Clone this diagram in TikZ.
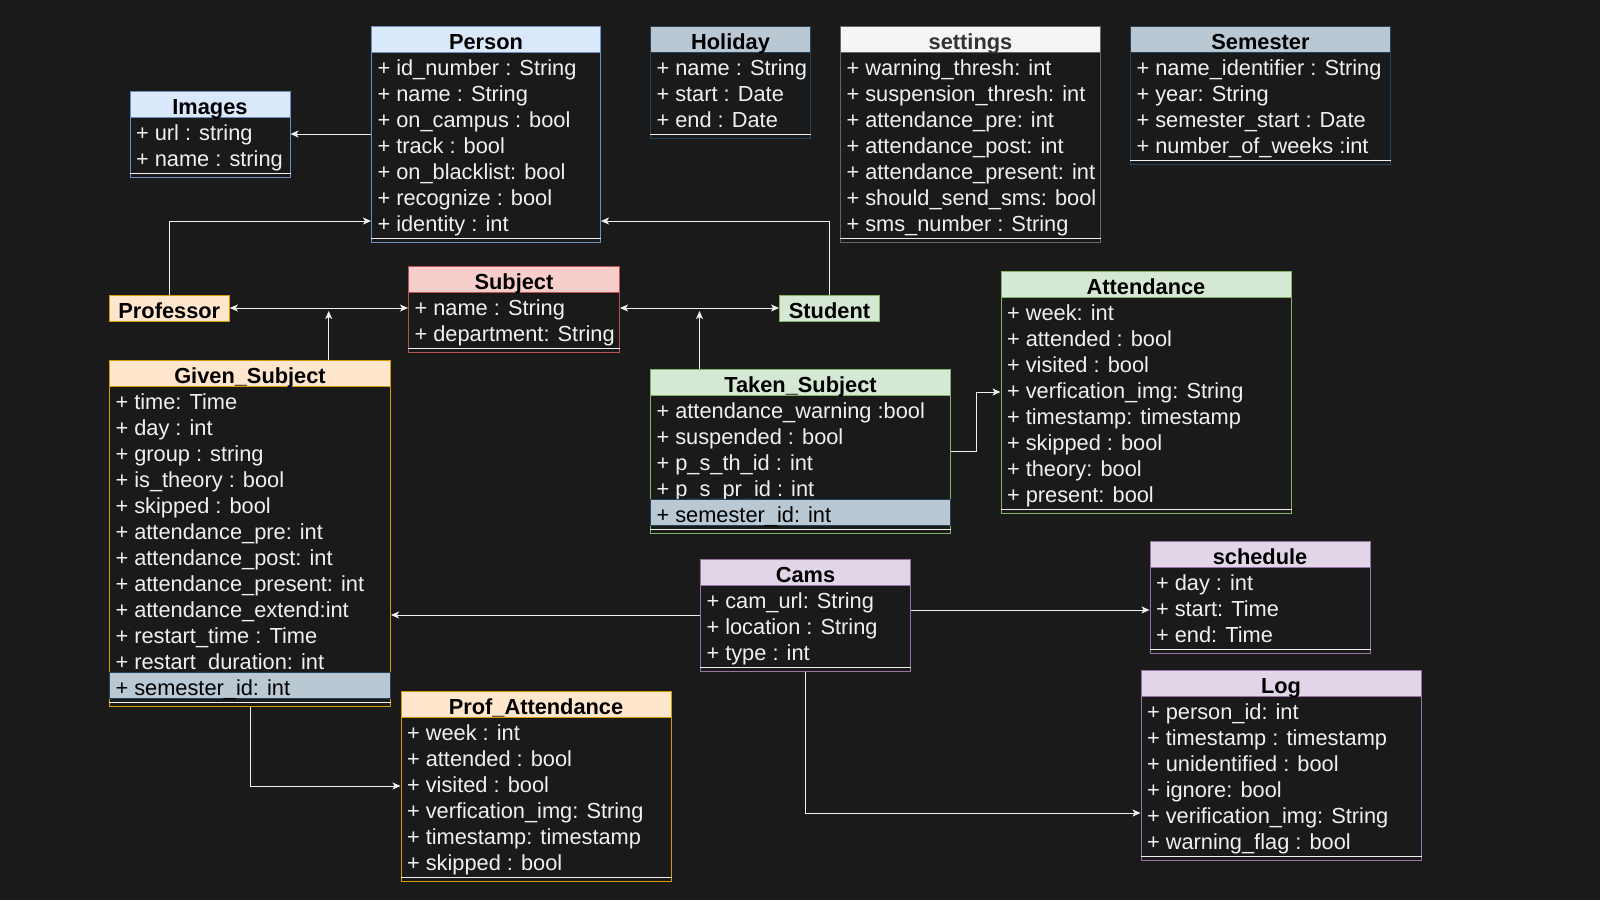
\documentclass[tikz,border=0pt]{standalone}
\usepackage{fontspec}
\setmainfont{Liberation Sans}
\usetikzlibrary{arrows.meta,calc}
\definecolor{bg}{HTML}{1A1A1A}
\definecolor{fg}{HTML}{F0F0F0}
\definecolor{bluefill}{HTML}{DAE8FC}\definecolor{bluestroke}{HTML}{6C8EBF}
\definecolor{grayfill}{HTML}{BAC8D3}\definecolor{graystroke}{HTML}{23445D}
\definecolor{setfill}{HTML}{F5F5F5}\definecolor{setstroke}{HTML}{666666}\definecolor{settext}{HTML}{333333}
\definecolor{redfill}{HTML}{F8CECC}\definecolor{redstroke}{HTML}{B85450}
\definecolor{orfill}{HTML}{FFE6CC}\definecolor{orstroke}{HTML}{D79B00}
\definecolor{grfill}{HTML}{D5E8D4}\definecolor{grstroke}{HTML}{82B366}
\definecolor{pufill}{HTML}{E1D5E7}\definecolor{pustroke}{HTML}{9673A6}
\newcommand\fs{\fontsize{21.8}{26}\selectfont}
% #1 name, #2 left, #3 top, #4 width, #5 rows, #6 fill, #7 stroke, #8 title
\newcommand\umlclass[8]{%
  \pgfmathsetmacro\boxh{34+26*#5}%
  \node[classframe, draw=#7, minimum width=#4pt, minimum height=\boxh pt] (#1) at ({#2+#4/2},{#3+\boxh/2}) {};
  \node[hdr, draw=#7, fill=#6, minimum width=#4pt] (#1-h) at ({#2+#4/2},{#3+13}) {#8};
  \draw[sepline] ([yshift=4pt]#1.south west) -- ([yshift=4pt]#1.south east);
}
% #1 name, #2 left, #3 top, #4 width, #5 list
\newcommand\umlrows[5]{%
  \foreach \t [count=\i] in {#5} {
    \node[rowtext] (#1-\i) at ({#2+#4/2},{#3+26*\i+13}) {\makebox[\dimexpr#4pt-12pt\relax][l]{\t}};
  }
}
% #1 name, #2 left, #3 top, #4 width, #5 index
\newcommand\semrow[5]{%
  \node[rowtext, fill=grayfill, draw=graystroke, text=black] (#1-#5) at ({#2+#4/2},{#3+26*#5+13}) {\makebox[\dimexpr#4pt-12pt\relax][l]{+ semester\_id: int}};
}
\begin{document}
\begin{tikzpicture}[x=1pt,y=-1pt,
  font=\fs,
  classframe/.style={fill=bg, line width=1pt, inner sep=0pt},
  hdr/.style={line width=1pt, inner sep=0pt, minimum height=26pt, text height=21pt, text depth=0pt, text=black, font=\fs\bfseries},
  rowtext/.style={inner xsep=6pt, inner ysep=0pt, minimum height=26pt, text height=21pt, text depth=0pt, text=fg, line width=1pt},
  sepline/.style={draw=fg, line width=1pt},
  tip/.tip={Stealth[length=8pt,width=7pt,inset=2pt]},
  arr/.style={draw=fg, line width=1pt, -tip},
  arrtwo/.style={draw=fg, line width=1pt, tip-tip},
  single/.style={hdr, minimum height=26pt}
]
\useasboundingbox (0,0) rectangle (1600,900);
\fill[bg] (0,0) rectangle (1600,900);

% Images
\umlclass{images}{130}{91}{160}{2}{bluefill}{bluestroke}{Images}
\umlrows{images}{130}{91}{160}{+ url : string, + name : string}
% Person
\umlclass{person}{371.5}{26}{229}{7}{bluefill}{bluestroke}{Person}
\umlrows{person}{371.5}{26}{229}{+ id\_number : String, + name : String, + on\_campus : bool, + track : bool, + on\_blacklist: bool, + recognize : bool, + identity : int}
% Holiday
\umlclass{holiday}{650.5}{26}{160}{3}{grayfill}{graystroke}{Holiday}
\umlrows{holiday}{650.5}{26}{160}{+ name : String, + start : Date, + end : Date}
% settings
\umlclass{settings}{840.5}{26}{260}{7}{setfill}{setstroke}{\color{settext}settings}
\umlrows{settings}{840.5}{26}{260}{+ warning\_thresh: int, + suspension\_thresh: int, + attendance\_pre: int, + attendance\_post: int, + attendance\_present: int, + should\_send\_sms: bool, + sms\_number : String}
% Semester
\umlclass{semester}{1130.5}{26}{260}{4}{grayfill}{graystroke}{Semester}
\umlrows{semester}{1130.5}{26}{260}{+ name\_identifier : String, + year: String, + semester\_start : Date, + number\_of\_weeks :int}
% Subject
\umlclass{subject}{408.5}{266}{211}{2}{redfill}{redstroke}{Subject}
\umlrows{subject}{408.5}{266}{211}{+ name : String, + department: String}
% Professor / Student
\node[single, draw=orstroke, fill=orfill, minimum width=120pt] (prof) at (169.3,308) {Professor};
\node[single, draw=grstroke, fill=grfill, minimum width=100pt] (student) at (829.5,308) {Student};
% Given_Subject
\umlclass{given}{109.5}{360}{281}{12}{orfill}{orstroke}{Given\_Subject}
\umlrows{given}{109.5}{360}{281}{+ time: Time, + day : int, + group : string, + is\_theory : bool, + skipped : bool, + attendance\_pre: int, + attendance\_post: int, + attendance\_present: int, + attendance\_extend:int, + restart\_time : Time, + restart\_duration: int}
\semrow{given}{109.5}{360}{281}{12}
% Taken_Subject
\umlclass{taken}{650.5}{369}{300}{5}{grfill}{grstroke}{Taken\_Subject}
\umlrows{taken}{650.5}{369}{300}{+ attendance\_warning :bool, + suspended : bool, + p\_s\_th\_id : int, + p\_s\_pr\_id : int}
\semrow{taken}{650.5}{369}{300}{5}
% Attendance
\umlclass{attendance}{1001}{271}{290}{8}{grfill}{grstroke}{Attendance}
\umlrows{attendance}{1001}{271}{290}{+ week: int, + attended : bool, + visited : bool, + verfication\_img: String, + timestamp: timestamp, + skipped : bool, + theory: bool, + present: bool}
% Cams
\umlclass{cams}{700.5}{559}{210}{3}{pufill}{pustroke}{Cams}
\umlrows{cams}{700.5}{559}{210}{+ cam\_url: String, + location : String, + type : int}
% schedule
\umlclass{schedule}{1150}{541}{220}{3}{pufill}{pustroke}{schedule}
\umlrows{schedule}{1150}{541}{220}{+ day : int, + start: Time, + end: Time}
% Log
\umlclass{log}{1141}{670}{280}{6}{pufill}{pustroke}{Log}
\umlrows{log}{1141}{670}{280}{+ person\_id: int, + timestamp : timestamp, + unidentified : bool, + ignore: bool, + verification\_img: String, + warning\_flag : bool}
% Prof_Attendance
\umlclass{profatt}{401}{691}{270}{6}{orfill}{orstroke}{Prof\_Attendance}
\umlrows{profatt}{401}{691}{270}{+ week : int, + attended : bool, + visited : bool, + verfication\_img: String, + timestamp: timestamp, + skipped : bool}

% connectors
\draw[arr] (person.west) -- (images.east);
\draw[arr] (prof.north) |- (person-7.west);
\draw[arr] (student.north) |- (person-7.east);
\draw[arrtwo] (prof.east) -- (prof.east -| subject.west);
\draw[arrtwo] (student.west -| subject.east) -- (student.west);
\path (prof.east) -- (prof.east -| subject.west) coordinate[pos=0.555] (psjoin);
\draw[arr] (given.north -| psjoin) -- ([yshift=-3pt]psjoin);
\path (student.west -| subject.east) -- (student.west) coordinate[pos=0.5] (ssjoin);
\draw[arr] (taken.north -| ssjoin) -- ([yshift=-3pt]ssjoin);
\draw[arr] (taken.east) -- ++(25.5,0) |- (attendance.west);
\draw[arr] (given.south) |- (profatt.west);
\draw[arr] (cams.west) -- (cams.west -| given.east);
\draw[arr] ([yshift=5pt]cams.east) -- ([yshift=5pt]cams.east -| schedule.west);
\draw[arr] (cams.south) |- (log-5.west);
\end{tikzpicture}
\end{document}
